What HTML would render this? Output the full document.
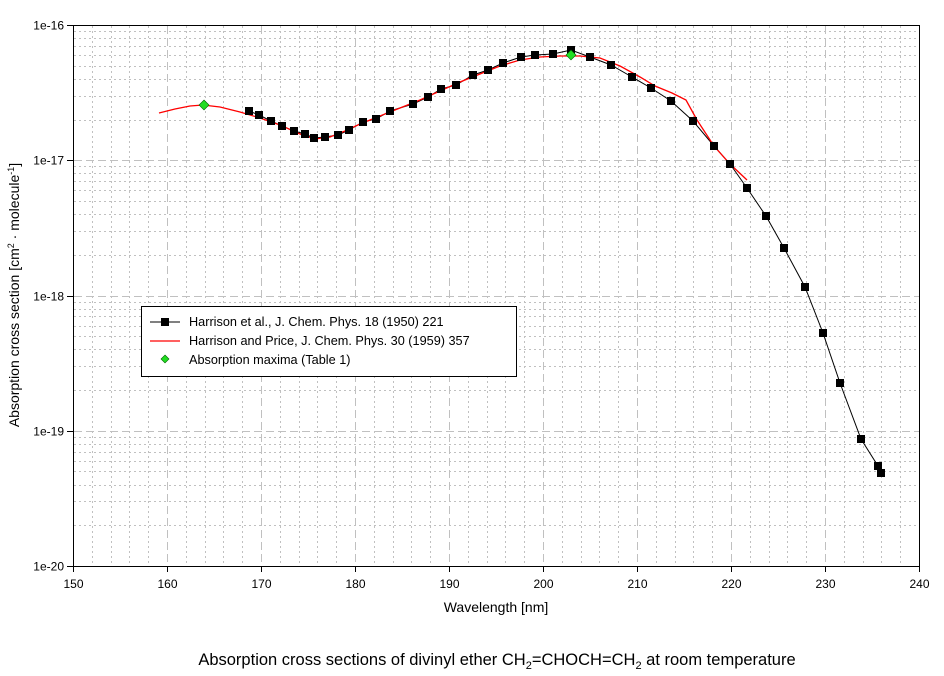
<!DOCTYPE html>
<html><head><meta charset="utf-8"><style>body{margin:0;background:#fff}svg{display:block;font-family:"Liberation Sans",sans-serif}</style></head><body>
<svg width="944" height="676" viewBox="0 0 944 676" xmlns="http://www.w3.org/2000/svg">
<g id="grid" stroke="#c0c0c0" stroke-width="1"></g>
<rect x="73.5" y="25.5" width="846" height="541" fill="none" stroke="#000"/>
<g id="ticks" stroke="#000"></g>
<g id="lbl" font-size="12" fill="#000"></g>
<polyline fill="none" stroke="#000" stroke-width="1" points="249,111 259,115 271,121 282,126 294,131 305,134 314,138 325,137 338,135 349,130 363,122 376,119 390,111 413,104 428,97 441,89 456,85 473,75 488,70 503,63 521,57 535,55 553,54 571,50 590,57 611,65 632,77 651,88 671,101 693,121 714,146 730,164 747,188 766,216 784,248 805,287 823,333 840,383 861,439 878,466 881,473"/>
<polyline fill="none" stroke="#f00" stroke-width="1.3" points="159,113 175,109 190,106 203,105 220,107 240,112 260,118 280,125 300,134 315,139 330,137 345,131 360,124 380,116 400,108 420,100 440,91 460,82 480,74 500,66 520,60 540,57 560,56 580,56 600,58 620,66 640,77 655,86 672,93 686,100 697,120 714,146 730,164 747,180"/>
<g id="sq" fill="#000"></g>
<g fill="#22dd22" stroke="#006600" stroke-width="0.6">
<polygon points="204,100 209,105 204,110 199,105"/>
<polygon points="571,50 576,55 571,60 566,55"/>
</g>
<rect x="141.5" y="306.5" width="375" height="70" fill="#fff" stroke="#000"/>
<line x1="150" y1="322" x2="180" y2="322" stroke="#000"/><rect x="161" y="318" width="8" height="8" fill="#000"/>
<line x1="150" y1="341" x2="180" y2="341" stroke="#f00" stroke-width="1.3"/>
<polygon points="165,355 169,359 165,363 161,359" fill="#22dd22" stroke="#006600" stroke-width="0.6"/>
<g font-size="12.7"><text x="189" y="326">Harrison et al., J. Chem. Phys. 18 (1950) 221</text>
<text x="189" y="345">Harrison and Price, J. Chem. Phys. 30 (1959) 357</text>
<text x="189" y="364">Absorption maxima (Table 1)</text></g>
<text x="496" y="612" font-size="14" text-anchor="middle">Wavelength [nm]</text>
<text transform="translate(19,295) rotate(-90)" font-size="14" text-anchor="middle">Absorption cross section [cm<tspan dy="-5" font-size="9">2</tspan><tspan dy="5"> · molecule</tspan><tspan dy="-5" font-size="9">-1</tspan><tspan dy="5">]</tspan></text>
<text x="497" y="665" font-size="16.5" text-anchor="middle">Absorption cross sections of divinyl ether CH<tspan dy="4" font-size="11">2</tspan><tspan dy="-4">=CHOCH=CH</tspan><tspan dy="4" font-size="11">2</tspan><tspan dy="-4"> at room temperature</tspan></text>
</svg>
<script>
const NS="http://www.w3.org/2000/svg";
function el(p,t,a,txt){const e=document.createElementNS(NS,t);for(const k in a)e.setAttribute(k,a[k]);if(txt)e.textContent=txt;document.getElementById(p).appendChild(e);}
const X=v=>73+(v-150)*846/90, Y=d=>566-d*135.25;
for(let v=152;v<240;v+=2){const x=Math.round(X(v))+.5;const maj=v%10==0;el("grid","line",{x1:x,x2:x,y1:26,y2:566,"stroke-dasharray":maj?"8,4":"2,3"});}
for(let d=0;d<4;d++)for(let m=1;m<10;m++){if(d==0&&m==1)continue;const y=Math.round(Y(d+Math.log10(m)))+.5;el("grid","line",{x1:74,x2:919,y1:y,y2:y,"stroke-dasharray":m==1?"8,4":"2,3"});}
for(let v=150;v<=240;v+=10){const x=Math.round(X(v))+.5;el("ticks","line",{x1:x,x2:x,y1:566,y2:572});el("lbl","text",{x:x,y:588,"text-anchor":"middle"},""+v);}
const yl=["1e-20","1e-19","1e-18","1e-17","1e-16"];
for(let d=0;d<=4;d++){const y=Math.round(Y(d))+.5;el("ticks","line",{x1:67,x2:73,y1:y,y2:y});el("lbl","text",{x:64,y:y+4,"text-anchor":"end"},yl[d]);}
const pts=[[249,111],[259,115],[271,121],[282,126],[294,131],[305,134],[314,138],[325,137],[338,135],[349,130],[363,122],[376,119],[390,111],[413,104],[428,97],[441,89],[456,85],[473,75],[488,70],[503,63],[521,57],[535,55],[553,54],[571,50],[590,57],[611,65],[632,77],[651,88],[671,101],[693,121],[714,146],[730,164],[747,188],[766,216],[784,248],[805,287],[823,333],[840,383],[861,439],[878,466],[881,473]];
pts.forEach(p=>el("sq","rect",{x:p[0]-4,y:p[1]-4,width:8,height:8}));
</script>
</body></html>
